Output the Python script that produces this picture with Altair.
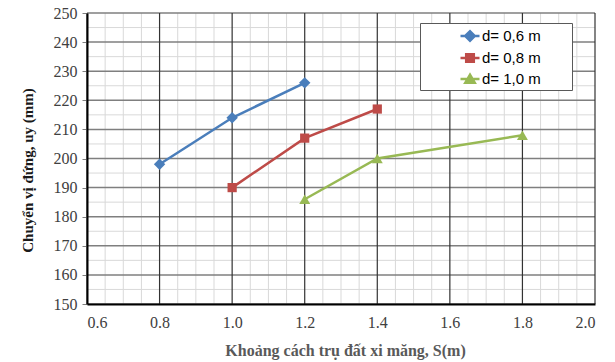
import altair as alt
import pandas as pd
import numpy as np

# ---- data ----
series = ["d= 0,6 m", "d= 0,8 m", "d= 1,0 m"]
s06_x = [0.8, 1.0, 1.2]
s06_y = [198, 214, 226]
s08_x = [1.0, 1.2, 1.4]
s08_y = [190, 207, 217]
s10_x = [1.2, 1.4, 1.8]
s10_y = [186, 200, 208]
colors = ["#4A7EBB", "#BE4B48", "#98B954"]

x_ticks = [0.6, 0.8, 1.0, 1.2, 1.4, 1.6, 1.8, 2.0]
y_ticks = [150, 160, 170, 180, 190, 200, 210, 220, 230, 240, 250]

rows = []
for name, xs_, ys_ in zip(series, [s06_x, s08_x, s10_x], [s06_y, s08_y, s10_y]):
    for a, b in zip(xs_, ys_):
        rows.append({"series": name, "S": a, "uy": b})
df = pd.DataFrame(rows)

x_minor = [round(v, 2) for v in np.arange(0.6, 2.0001, 0.05) if round(v, 2) not in x_ticks]
y_minor = [v + 5 for v in y_ticks[:-1]]

xscale = alt.Scale(domain=[0.6, 2.0], nice=False, zero=False)
yscale = alt.Scale(domain=[150, 250], nice=False, zero=False)

x_axis = alt.Axis(values=x_ticks, format=".1f", grid=False, ticks=False,
                  domainColor="black", domainWidth=2, zindex=1,
                  labelFont="Liberation Serif", labelFontSize=16, labelColor="#404040",
                  labelPadding=10, title="Khoảng cách trụ đất xi măng, S(m)",
                  titleFont="Liberation Serif", titleFontSize=16, titleFontWeight="bold",
                  titleColor="#595959", titlePadding=12, titleX=258)
y_axis = alt.Axis(values=y_ticks, grid=False, tickSize=5, tickColor="#7f7f7f",
                  domainColor="black", domainWidth=2, zindex=1,
                  labelFont="Liberation Serif", labelFontSize=16, labelColor="#404040",
                  labelPadding=5, title="Chuyển vị đứng, uy (mm)",
                  titleFont="Liberation Serif", titleFontSize=15, titleFontWeight="bold",
                  titleColor="#1a1a1a", titlePadding=18, titleY=157)


def X(field):
    return alt.X(field, type="quantitative", scale=xscale, axis=x_axis)


def Y(field):
    return alt.Y(field, type="quantitative", scale=yscale, axis=y_axis)


minor_v = alt.Chart(pd.DataFrame({"S": x_minor})).mark_rule(color="#d9d9d9", strokeWidth=1).encode(x=X("S"))
minor_h = alt.Chart(pd.DataFrame({"uy": y_minor})).mark_rule(color="#d9d9d9", strokeWidth=1).encode(y=Y("uy"))
major_h = alt.Chart(pd.DataFrame({"uy": y_ticks})).mark_rule(color="#7f7f7f", strokeWidth=1.5).encode(y=Y("uy"))
major_v = alt.Chart(pd.DataFrame({"S": x_ticks})).mark_rule(color="#333333", strokeWidth=1.2).encode(x=X("S"))

legend_paths = [
    "M-1,0H1M-0.5,0L0,-0.5L0.5,0L0,0.5Z",
    "M-1,0H1M-0.4,-0.4H0.4V0.4H-0.4Z",
    "M-1,0H1M-0.5,0.4L0,-0.45L0.5,0.4Z",
]
# trailing non-breaking spaces (kept by a closing zero-width char) widen the legend frame
pad = "\u00a0" * 7 + "\u200b"
leg = alt.Legend(orient="none", legendX=333, legendY=10, title=None,
                 padding=2, symbolOffset=37, symbolSize=361, symbolStrokeWidth=2.5,
                 symbolOpacity=1, rowPadding=1, labelOffset=1,
                 labelFont="Liberation Sans", labelFontSize=15, labelColor="black",
                 labelExpr="datum.label + '" + pad + "'",
                 strokeColor="#595959", fillColor="white")

# invisible layer that only carries the legend
legend_layer = alt.Chart(df).mark_point(filled=True, opacity=0).encode(
    x=X("S"), y=Y("uy"),
    fill=alt.Fill("series:N", scale=alt.Scale(domain=series, range=colors), legend=leg),
    stroke=alt.Stroke("series:N", scale=alt.Scale(domain=series, range=colors), legend=leg),
    shape=alt.Shape("series:N", scale=alt.Scale(domain=series, range=legend_paths), legend=leg),
)

cscale = alt.Scale(domain=series, range=colors)
lines = alt.Chart(df).mark_line(strokeWidth=2.5).encode(
    x=X("S"), y=Y("uy"), color=alt.Color("series:N", scale=cscale, legend=None))

shapes = ["diamond", "square", "triangle-up"]
sizes = [130, 85, 120]
point_layers = []
for name, shp, sz, col in zip(series, shapes, sizes, colors):
    point_layers.append(
        alt.Chart(df).transform_filter(alt.datum.series == name)
        .mark_point(filled=True, opacity=1, shape=shp, size=sz, color=col)
        .encode(x=X("S"), y=Y("uy")))

chart = alt.layer(minor_v, minor_h, major_h, major_v, legend_layer, lines, *point_layers).properties(
    width=508, height=291,
    padding={"left": 87, "top": 13, "right": 20, "bottom": 58},
    autosize=alt.AutoSizeParams(type="none"),
    background="white",
).configure_view(stroke=None)

chart.save("out.html", embed_options={"renderer": "svg", "actions": False})
